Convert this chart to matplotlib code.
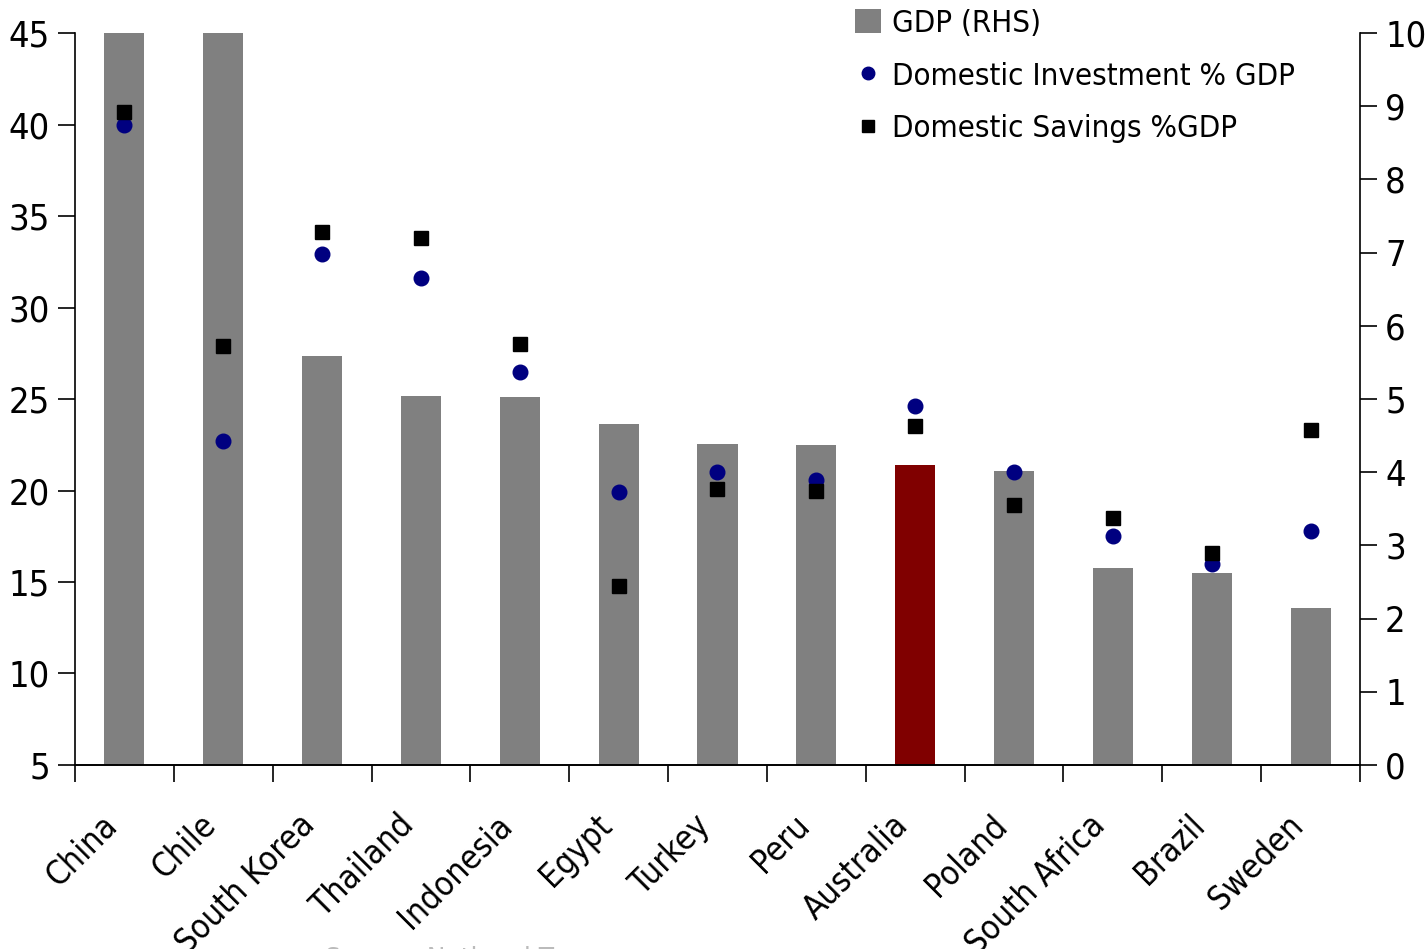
import matplotlib

matplotlib.use("Agg")
import matplotlib.pyplot as plt
import numpy as np
from matplotlib.lines import Line2D
from matplotlib.patches import Patch
from matplotlib.transforms import ScaledTranslation

COUNTRIES = [
    "China", "Chile", "South Korea", "Thailand", "Indonesia", "Egypt", "Turkey",
    "Peru", "Australia", "Poland", "South Africa", "Brazil", "Sweden",
]
# GDP growth (RHS); China and Chile run off the top of the scale
GDP = [10.6, 10.3, 5.59, 5.04, 5.03, 4.66, 4.39, 4.37, 4.10, 4.02, 2.69, 2.62, 2.14]
INVESTMENT = [40.0, 22.7, 32.9, 31.6, 26.5, 19.9, 21.0, 20.6, 24.6, 21.0, 17.5, 16.0, 17.8]
SAVINGS = [40.7, 27.9, 34.1, 33.8, 28.0, 14.8, 20.1, 20.0, 23.5, 19.2, 18.5, 16.6, 23.3]
HIGHLIGHT = "Australia"

BAR_GREY = "#808080"
BAR_RED = "#800000"
NAVY = "#000080"

plt.rcParams.update({
    "font.family": ["DejaVu Sans"],
    "font.stretch": "condensed",
    "font.size": 22,
})

fig = plt.figure(figsize=(14.25, 9.49), dpi=100)
ax = fig.add_axes([0.0526, 0.1939, 0.9018, 0.7713])
ax2 = ax.twinx()

x = np.arange(len(COUNTRIES))
colors = [BAR_RED if c == HIGHLIGHT else BAR_GREY for c in COUNTRIES]
ax2.bar(x, GDP, width=0.405, color=colors, linewidth=0)
ax2.set_ylim(0, 10)
ax2.set_yticks(range(0, 11))

ax.plot(x, INVESTMENT, "o", color=NAVY, markersize=10.5, linestyle="none")
ax.plot(x, SAVINGS, "s", color="black", markersize=10, linestyle="none")
ax.set_ylim(5, 45)
ax.set_yticks(range(5, 46, 5))
ax.set_xlim(-0.5, len(COUNTRIES) - 0.5)

# markers above the bars
ax.set_zorder(ax2.get_zorder() + 1)
ax.patch.set_visible(False)

for a in (ax, ax2):
    a.spines["top"].set_visible(False)
    for s in ("left", "right", "bottom"):
        a.spines[s].set_linewidth(1.2)
ax.spines["right"].set_visible(False)
ax2.spines["left"].set_visible(False)

ax.tick_params(axis="y", direction="out", length=12, width=1.2, labelsize=26, pad=6)
ax2.tick_params(axis="y", direction="out", length=12, width=1.2, labelsize=26, pad=6)

# category labels at centres, tick marks at the boundaries
ax.set_xticks(x)
ax.set_xticklabels(COUNTRIES, rotation=45, ha="right", rotation_mode="anchor", fontsize=24)
ax.tick_params(axis="x", which="major", length=0, pad=40)
ax.set_xticks(np.arange(-0.5, len(COUNTRIES), 1.0), minor=True)
ax.tick_params(axis="x", which="minor", direction="out", length=12, width=1.2)
shift = ScaledTranslation(-0.24, 0.12, fig.dpi_scale_trans)
for lbl in ax.get_xticklabels():
    lbl.set_transform(lbl.get_transform() + shift)

handles = [
    Patch(facecolor=BAR_GREY, edgecolor="none", label="GDP (RHS)"),
    Line2D([], [], marker="o", color=NAVY, linestyle="none", markersize=9,
           label="Domestic Investment % GDP"),
    Line2D([], [], marker="s", color="black", linestyle="none", markersize=8.5,
           label="Domestic Savings %GDP"),
]
ax.legend(handles=handles, loc="upper left", bbox_to_anchor=(0.597, 1.05),
          frameon=False, fontsize=22.4, handlelength=0.84, handleheight=0.83,
          handletextpad=0.35, labelspacing=0.76, borderaxespad=0)

fig.text(0.228, 0.003, "Source: National Treasury", fontsize=20, color="#bbbbbb",
         ha="left", va="top")

fig.savefig("out.png", dpi=100)
